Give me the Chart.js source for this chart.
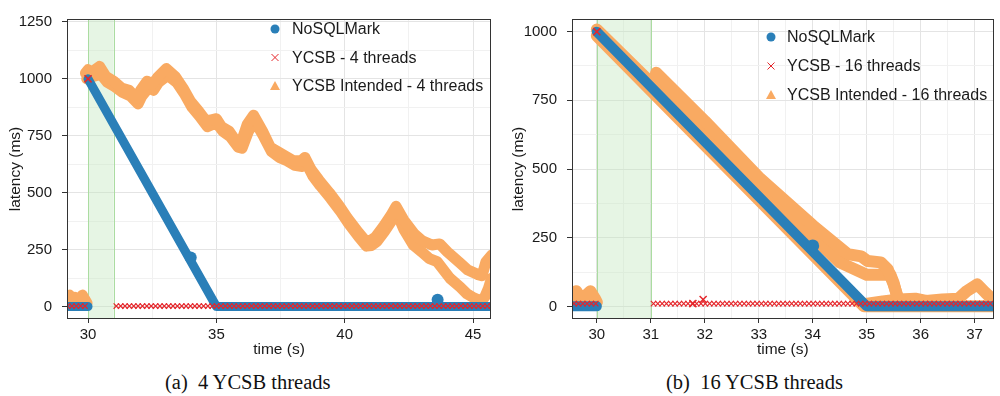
<!DOCTYPE html>
<html><head><meta charset="utf-8">
<script src="https://cdn.jsdelivr.net/npm/chart.js@4.4.0/dist/chart.umd.min.js"></script>
<style>
html,body{margin:0;padding:0;background:#fff;width:1000px;height:396px;overflow:hidden;}
.panel{position:absolute;top:0;width:500px;height:370px;}
#pa{left:0;}
#pb{left:500px;}
.cap{position:absolute;top:370px;font-family:"Liberation Serif","Times New Roman",serif;font-size:20.5px;line-height:24px;color:#111;white-space:pre;}
</style></head><body>
<div class="panel" id="pa"><canvas id="ca"></canvas></div>
<div class="panel" id="pb"><canvas id="cb"></canvas></div>
<div class="cap" style="left:165px">(a)  4 YCSB threads</div>
<div class="cap" style="left:666px">(b)  16 YCSB threads</div>
<script>
// ---------- Panel (a): 4 YCSB threads ----------
const legendA = ['NoSQLMark', 'YCSB - 4 threads', 'YCSB Intended - 4 threads'];
const xMajorA = [30, 35, 40, 45];
const xGridA = [30, 32.5, 35, 37.5, 40, 42.5, 45];
const yMajorA = [0, 250, 500, 750, 1000, 1250];
const yGridA = [0, 125, 250, 375, 500, 625, 750, 875, 1000, 1125, 1250];
const warmupA = [30, 31];

const nosqlA_t = [29.18, 30.0, null, 30.0, 35.0, 45.72];
const nosqlA_v = [0, 0, null, 1000, 0, 0];
const nosqlSpikeA_t = [34.0, 43.62];
const nosqlSpikeA_v = [215, 30];

const ycsbA_t = [29.20, 29.37, 29.54, 29.71, 29.88,
  31.10, 31.27, 31.44, 31.61, 31.78, 31.95, 32.12, 32.29, 32.46, 32.63, 32.80, 32.97, 33.14, 33.31, 33.48,
  33.65, 33.82, 33.99, 34.16, 34.33, 34.50, 34.67, 34.84, 35.01, 35.18, 35.35, 35.52, 35.69, 35.86, 36.03,
  36.20, 36.37, 36.54, 36.71, 36.88, 37.05, 37.22, 37.39, 37.56, 37.73, 37.90, 38.07, 38.24, 38.41, 38.58,
  38.75, 38.92, 39.09, 39.26, 39.43, 39.60, 39.77, 39.94, 40.11, 40.28, 40.45, 40.62, 40.79, 40.96, 41.13,
  41.30, 41.47, 41.64, 41.81, 41.98, 42.15, 42.32, 42.49, 42.66, 42.83, 43.00, 43.17, 43.34, 43.51, 43.68,
  43.85, 44.02, 44.19, 44.36, 44.53, 44.70, 44.87, 45.04, 45.21, 45.38, 45.55, 45.72];
const ycsbA_level = 2;
const ycsbOutA_t = [30.0];
const ycsbOutA_v = [1000];

const intA0_t = [29.18, 29.28, 29.38, 29.48, 29.58, 29.68, 29.78, 29.88, 29.96];
const intA0_v = [35, 50, 25, 40, 20, 35, 50, 30, 15];
const intA1_t = [29.9, 30.0, 30.15, 30.45, 30.7, 31.0, 31.3, 31.6, 31.9, 32.05, 32.3, 32.5, 32.7, 33.05, 33.4,
  33.7, 34.0, 34.3, 34.6, 34.8, 35.0, 35.2, 35.5, 35.8, 35.95, 36.2, 36.45, 36.8, 37.1, 37.4, 37.7, 38.0, 38.3,
  38.45, 38.7, 39.0, 39.4, 39.8, 40.1, 40.5, 40.8, 41.0, 41.2, 41.5, 41.8, 42.0, 42.3, 42.7, 43.0, 43.4, 43.7,
  44.0, 44.5, 44.8, 45.2, 45.35, 45.5, 45.72];
const intA1_v = [1025, 1040, 1030, 1055, 1010, 990, 960, 950, 915, 950, 990, 975, 1005, 1045, 1010,
  960, 900, 860, 815, 820, 825, 790, 770, 720, 715, 800, 840, 770, 700, 680, 660, 640, 640,
  655, 600, 555, 500, 440, 390, 330, 290, 290, 305, 350, 400, 440, 380, 320, 290, 270, 275,
  240, 190, 160, 140, 135, 195, 225];
const intA2_t = [29.95, 30.2, 30.5, 30.75, 31.05, 31.35, 31.65, 31.95, 32.1, 32.35, 32.55, 32.75, 33.1, 33.45,
  33.75, 34.05, 34.35, 34.65, 34.85, 35.05, 35.25, 35.55, 35.85, 36.0, 36.25, 36.5, 36.85, 37.15, 37.45, 37.75,
  38.05, 38.35, 38.5, 38.75, 39.05, 39.45, 39.85, 40.15, 40.55, 40.85, 41.05, 41.25, 41.55, 41.85, 42.0, 42.3,
  42.67, 43.0, 43.3, 43.6, 44.1, 44.5, 44.76, 45.0, 45.27, 45.45, 45.6, 45.72];
const intA2_v = [1000, 1010, 1020, 985, 965, 940, 925, 890, 925, 960, 950, 985, 1015, 985,
  935, 875, 835, 790, 800, 800, 770, 745, 700, 695, 770, 815, 745, 680, 655, 640,
  620, 615, 630, 575, 530, 475, 415, 365, 305, 265, 268, 285, 330, 380, 420, 340,
  270, 240, 210, 197, 124, 85, 56, 40, 26, 40, 80, 124];

// ---------- Panel (b): 16 YCSB threads ----------
const legendB = ['NoSQLMark', 'YCSB - 16 threads', 'YCSB Intended - 16 threads'];
const xMajorB = [30, 31, 32, 33, 34, 35, 36, 37];
const xGridB = [30, 30.5, 31, 31.5, 32, 32.5, 33, 33.5, 34, 34.5, 35, 35.5, 36, 36.5, 37];
const yMajorB = [0, 250, 500, 750, 1000];
const yGridB = [0, 125, 250, 375, 500, 625, 750, 875, 1000];
const warmupB = [30, 31];

const nosqlB_t = [29.54, 30.0, null, 30.0, 35.0, 37.35];
const nosqlB_v = [0, 0, null, 1000, 0, 0];
const nosqlSpikeB_t = [34.0];
const nosqlSpikeB_v = [220];

const ycsbB_t = [29.58, 29.66, 29.74, 29.82, 29.90, 29.98,
  31.05, 31.13, 31.21, 31.29, 31.37, 31.45, 31.53, 31.61, 31.69, 31.77, 31.85, 31.93, 32.01, 32.09, 32.17,
  32.25, 32.33, 32.41, 32.49, 32.57, 32.65, 32.73, 32.81, 32.89, 32.97, 33.05, 33.13, 33.21, 33.29, 33.37,
  33.45, 33.53, 33.61, 33.69, 33.77, 33.85, 33.93, 34.01, 34.09, 34.17, 34.25, 34.33, 34.41, 34.49, 34.57,
  34.65, 34.73, 34.81, 34.89, 34.97, 35.05, 35.13, 35.21, 35.29, 35.37, 35.45, 35.53, 35.61, 35.69, 35.77,
  35.85, 35.93, 36.01, 36.09, 36.17, 36.25, 36.33, 36.41, 36.49, 36.57, 36.65, 36.73, 36.81, 36.89, 36.97,
  37.05, 37.13, 37.21, 37.29];
const ycsbB_level = 10;
const ycsbOutB_t = [30.0, 31.78, 31.97];
const ycsbOutB_v = [1000, 10, 25];

const intB0_t = [29.54, 29.62, 29.70, 29.80, 29.88, 29.96, 30.0];
const intB0_v = [35, 55, 30, 40, 55, 30, 15];
const intB1_t = [30.0, 34.95, 37.35];
const intB1_v = [985, 0, 0];
const intB2_t = [30.0, 31.05, 31.1, 32.0, 33.0, 34.0, 34.65, 34.9, 35.02, 35.26, 35.39, 35.5, 35.58, 35.65];
const intB2_v = [1008, 805, 850, 675, 470, 295, 190, 182, 165, 160, 135, 80, 30, 20];
const intB3_t = [31.1, 32.0, 33.0, 34.0, 34.5, 35.0, 35.44, 35.5, 35.57];
const intB3_v = [810, 635, 440, 255, 160, 115, 115, 85, 32];
const intB4_t = [34.95, 35.3, 35.6, 35.9, 36.1, 36.4, 36.7, 36.85, 37.05, 37.2, 37.35];
const intB4_v = [8, 18, 25, 28, 20, 25, 28, 55, 80, 50, 22];

// ---------- styling ----------
const BLUE = '#2a7fb8', ORANGE = '#f9aa62', RED = '#e5262b';
const FONT = "'Liberation Sans', Arial, Helvetica, sans-serif";
const GRID = '#e4e4e4', GRID_MINOR = '#f1f1f1', INK = '#1a1a1a';

function pts(ts, vs) { return ts.map((t, i) => ({ x: t, y: vs[i] })); }
function lvl(ts, v) { return ts.map(t => ({ x: t, y: v })); }

const decor = {
  id: 'decor',
  beforeDatasetsDraw(chart, args, o) {
    const { ctx, chartArea: a, scales: { x } } = chart;
    const x1 = x.getPixelForValue(o.band[0]), x2 = x.getPixelForValue(o.band[1]);
    ctx.save();
    ctx.fillStyle = 'rgba(196,232,190,0.42)';
    ctx.fillRect(x1, a.top, x2 - x1, a.bottom - a.top);
    ctx.strokeStyle = '#abdca1'; ctx.lineWidth = 1;
    [x1, x2].forEach(px => { ctx.beginPath(); ctx.moveTo(Math.round(px) + 0.5, a.top); ctx.lineTo(Math.round(px) + 0.5, a.bottom); ctx.stroke(); });
    ctx.restore();
  },
  afterDatasetsDraw(chart, args, o) {
    const { ctx, chartArea: a } = chart;
    ctx.save();
    ctx.strokeStyle = '#333'; ctx.lineWidth = 1;
    ctx.strokeRect(Math.round(a.left) + 0.5, Math.round(a.top) + 0.5, Math.round(a.right - a.left) - 1, Math.round(a.bottom - a.top) - 1);
    ctx.font = '16px ' + FONT; ctx.textBaseline = 'middle'; ctx.textAlign = 'left'; ctx.fillStyle = INK;
    o.labels.forEach((lab, i) => {
      const y = o.y0 + i * o.dy, x = o.mx;
      if (i === 0) { ctx.fillStyle = BLUE; ctx.beginPath(); ctx.arc(x, y, 4.5, 0, Math.PI * 2); ctx.fill(); }
      else if (i === 1) { ctx.strokeStyle = RED; ctx.lineWidth = 1; const r = 3.5; ctx.beginPath(); ctx.moveTo(x - r, y - r); ctx.lineTo(x + r, y + r); ctx.moveTo(x - r, y + r); ctx.lineTo(x + r, y - r); ctx.stroke(); }
      else { ctx.fillStyle = ORANGE; ctx.beginPath(); ctx.moveTo(x, y - 5); ctx.lineTo(x + 5, y + 4); ctx.lineTo(x - 5, y + 4); ctx.closePath(); ctx.fill(); }
      ctx.fillStyle = INK; ctx.fillText(lab, o.tx, y + 1);
    });
    ctx.restore();
  }
};

function axisOpts(p, axis) {
  const major = axis === 'x' ? p.xMajor : p.yMajor;
  const grid = axis === 'x' ? p.xGrid : p.yGrid;
  const isMaj = v => major.includes(v);
  return {
    type: 'linear',
    min: axis === 'x' ? p.xMin : p.yMin,
    max: axis === 'x' ? p.xMax : p.yMax,
    afterBuildTicks: s => { s.ticks = grid.map(v => ({ value: v })); },
    afterFit: s => { if (axis === 'x') s.height = 40; else s.width = p.yAxisW; },
    border: { display: false },
    grid: {
      color: c => (c.tick && isMaj(c.tick.value)) ? GRID : GRID_MINOR,
      lineWidth: 1,
      drawTicks: true,
      tickLength: axis === 'x' ? 4 : 5,
      tickColor: c => (c.tick && isMaj(c.tick.value)) ? '#333' : 'rgba(0,0,0,0)',
      tickWidth: 1
    },
    ticks: {
      autoSkip: false, maxRotation: 0,
      callback: v => isMaj(v) ? String(v) : '',
      font: { family: FONT, size: 15 }, color: INK,
      padding: axis === 'x' ? 3 : 10
    },
    title: {
      display: true, text: axis === 'x' ? 'time (s)' : 'latency (ms)',
      font: { family: FONT, size: 15.5 }, color: INK,
      padding: axis === 'x' ? { top: 0, bottom: 0 } : { top: p.yTitlePad, bottom: 0 }
    }
  };
}

function makePanel(id, p) {
  const line = (t, v, w, c) => ({ data: pts(t, v), showLine: true, pointRadius: 0, borderColor: c, backgroundColor: c, borderWidth: w, borderCapStyle: 'round', borderJoinStyle: 'round', clip: 0 });
  const datasets = [
    { data: lvl(p.ycsbT, p.ycsbLevel), pointStyle: 'crossRot', pointRadius: 3.8, borderColor: RED, backgroundColor: RED, borderWidth: 1.2, clip: 0 },
    { data: pts(p.ycsbOutT, p.ycsbOutV), pointStyle: 'crossRot', pointRadius: 5, borderColor: RED, backgroundColor: RED, borderWidth: 1.5, clip: 0 },
    { data: pts(p.spikeT, p.spikeV), pointStyle: 'circle', pointRadius: p.blueW / 2 + 1.5, backgroundColor: BLUE, borderColor: BLUE, borderWidth: 0, clip: 0 },
    line(p.nosqlT, p.nosqlV, p.blueW, BLUE),
    ...p.intended.map(s => line(s[0], s[1], p.orangeW, ORANGE))
  ];
  new Chart(document.getElementById(id), {
    type: 'scatter',
    data: { datasets },
    plugins: [decor],
    options: {
      responsive: true, maintainAspectRatio: false, animation: false, events: [],
      layout: { padding: { top: 11, right: p.padRight, bottom: 11, left: 0 } },
      plugins: {
        legend: { display: false }, tooltip: { enabled: false },
        decor: { band: p.band, labels: p.legend, mx: p.legX, tx: p.legTX, y0: p.legY0, dy: p.legDY }
      },
      scales: { x: axisOpts(p, 'x'), y: axisOpts(p, 'y') }
    }
  });
}

makePanel('ca', {
  legend: legendA, xMajor: xMajorA, xGrid: xGridA, yMajor: yMajorA, yGrid: yGridA, band: warmupA,
  xMin: 29.18, xMax: 45.70, yMin: -55, yMax: 1263, yAxisW: 67, yTitlePad: 6, padRight: 9,
  nosqlT: nosqlA_t, nosqlV: nosqlA_v, spikeT: nosqlSpikeA_t, spikeV: nosqlSpikeA_v,
  ycsbT: ycsbA_t, ycsbLevel: ycsbA_level, ycsbOutT: ycsbOutA_t, ycsbOutV: ycsbOutA_v,
  intended: [[intA0_t, intA0_v], [intA1_t, intA1_v], [intA2_t, intA2_v]],
  blueW: 9, orangeW: 11,
  legX: 275, legTX: 292, legY0: 29, legDY: 28.5
});
makePanel('cb', {
  legend: legendB, xMajor: xMajorB, xGrid: xGridB, yMajor: yMajorB, yGrid: yGridB, band: warmupB,
  xMin: 29.54, xMax: 37.35, yMin: -46, yMax: 1046, yAxisW: 72, yTitlePad: 9, padRight: 3,
  nosqlT: nosqlB_t, nosqlV: nosqlB_v, spikeT: nosqlSpikeB_t, spikeV: nosqlSpikeB_v,
  ycsbT: ycsbB_t, ycsbLevel: ycsbB_level, ycsbOutT: ycsbOutB_t, ycsbOutV: ycsbOutB_v,
  intended: [[intB0_t, intB0_v], [intB1_t, intB1_v], [intB2_t, intB2_v], [intB3_t, intB3_v], [intB4_t, intB4_v]],
  blueW: 10, orangeW: 12,
  legX: 271, legTX: 287, legY0: 37, legDY: 29
});
</script>
</body></html>
